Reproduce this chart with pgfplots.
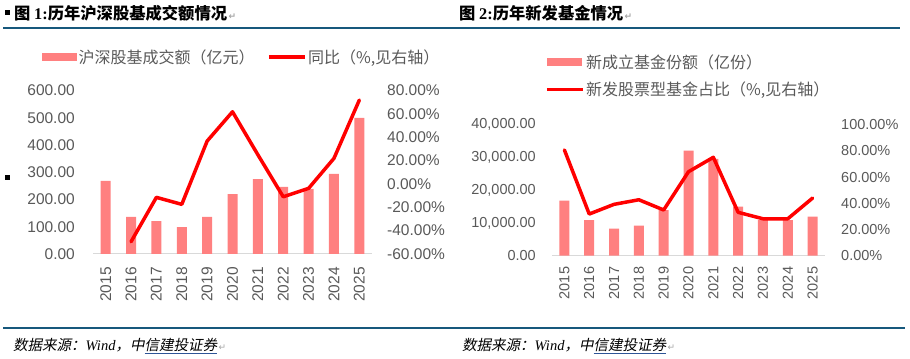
\documentclass[border=0pt]{standalone}
\usepackage{fontspec}
\usepackage{pgfplots}
\pgfplotsset{compat=1.18}
\setmainfont{Liberation Serif}
\newfontfamily\cjk{Noto Sans CJK SC}
\newfontfamily\cjksl{Noto Sans CJK SC}[FakeSlant=0.2]
\newfontfamily\arial{Liberation Sans}
\newfontfamily\dejavu{DejaVu Sans}
\definecolor{barc}{RGB}{255,128,128}
\definecolor{linec}{RGB}{255,0,0}
\definecolor{tickc}{RGB}{89,89,89}
\definecolor{rulec}{RGB}{22,88,124}
\definecolor{linkc}{RGB}{46,85,151}
\definecolor{retc}{RGB}{165,165,165}
\newcommand\bul[1]{\setbox0\hbox{#1}\rlap{\color{linkc}\rule[-3.5bp]{\wd0}{0.9bp}}\box0}
\newcommand\ret{{\dejavu\fontsize{9bp}{9bp}\selectfont\color{retc}\hspace{1.5bp}↵}}

\pgfplotstableread{
x y
0 268
1 136
2 121
3 99
4 136
5 220
6 275
7 246
8 239
9 294
10 500
}\volA
\pgfplotstableread{
x y
1 -49.5
2 -11.5
3 -17.5
4 36.7
5 61.8
6 25.0
7 -11.0
8 -3.8
9 21.9
10 71.8
}\yoyA
\pgfplotstableread{
x y
0 16800
1 10900
2 8250
3 9160
4 13950
5 32060
6 29600
7 14960
8 10900
9 10900
10 11900
}\volB
\pgfplotstableread{
x y
0 80.7
1 31.8
2 39.2
3 42.7
4 34.9
5 64.1
6 75.1
7 33.1
8 28.2
9 28.2
10 44.0
}\shareB

\pgfplotsset{
  base/.style={
    scale only axis, anchor=south west,
    xmin=-0.5, xmax=10.5,
    major tick length=0pt, tick style={draw=none},
    ticklabel style={text=tickc, inner sep=0pt},
    scaled y ticks=false,
    clip=false,
  },
  barlegend/.style={legend image code/.code={\fill[barc] (0bp,-4bp) rectangle (35bp,4bp);}},
  linelegend/.style={legend image code/.code={\draw[linec, line width=3.5bp] (0bp,0bp) -- (36bp,0bp);}},
}

\begin{document}
\begin{tikzpicture}
\useasboundingbox (0bp,0bp) rectangle (910bp,359bp);
% titles
\fill (5bp,344bp) rectangle (10bp,349bp);
\node[anchor=west, inner sep=0pt] at (14bp,346bp) {\cjk\bfseries\fontsize{16.3bp}{18bp}\selectfont 图 {\rmfamily\bfseries 1:}历年沪深股基成交额情况\ret};
\node[anchor=west, inner sep=0pt] at (459bp,346bp) {\cjk\bfseries\fontsize{16.3bp}{18bp}\selectfont 图 {\rmfamily\bfseries 2:}历年新发基金情况\ret};
\draw[rulec, line width=2.5bp] (3bp,331bp) -- (900bp,331bp);
\fill (5bp,179bp) rectangle (10bp,184bp);
% sources
\draw[rulec, line width=1.2bp] (3bp,31bp) -- (905bp,31bp);
\node[anchor=west, inner sep=0pt] at (13bp,13bp) {\fontsize{14.5bp}{16bp}\selectfont{\cjksl 数据来源：}\textit{Wind}{\cjksl ，中}\bul{\cjksl 信建投证券}\ret};
\node[anchor=west, inner sep=0pt] at (462bp,13bp) {\fontsize{14.5bp}{16bp}\selectfont{\cjksl 数据来源：}\textit{Wind}{\cjksl ，中}\bul{\cjksl 信建投证券}\ret};

% ===== Chart 1 =====
\begin{axis}[base, at={(93bp,105bp)}, width=279bp, height=163.5bp,
  ymin=0, ymax=600, ytick={0,100,200,300,400,500,600},
  yticklabels={0.00,100.00,200.00,300.00,400.00,500.00,600.00},
  xtick={0,...,10},
  xticklabels={2015,2016,2017,2018,2019,2020,2021,2022,2023,2024,2025},
  axis x line*=bottom, axis y line*=left,
  y axis line style={draw=none}, x axis line style={draw=black!15, line width=1bp},
  xticklabel style={rotate=90, anchor=east, font=\arial\fontsize{15.5bp}{17bp}\selectfont},
  yticklabel style={anchor=east, font=\arial\fontsize{15.5bp}{17bp}\selectfont},
  xticklabel shift=13bp, yticklabel shift=18bp,
  legend style={draw=none, fill=none, at={(-0.183,1.205)}, anchor=west,
    legend columns=2, text=tickc, inner sep=0pt,
    font=\cjk\fontsize{16bp}{18bp}\selectfont,
    nodes={inner sep=1.5bp},
    /tikz/every even column/.append style={column sep=11bp}},
  legend cell align=left,
]
\addplot[ybar, bar width=10bp, fill=barc, draw=none, barlegend] table[x=x,y=y] {\volA};
\addlegendentry{沪深股基成交额（亿元）}
\addlegendimage{linelegend}
\addlegendentry{同比（\%,见右轴）}
\end{axis}
\begin{axis}[base, at={(93bp,105bp)}, width=279bp, height=163.5bp,
  ymin=-60, ymax=80, ytick={-60,-40,-20,0,20,40,60,80},
  yticklabels={-60.00\%,-40.00\%,-20.00\%,0.00\%,20.00\%,40.00\%,60.00\%,80.00\%},
  axis y line*=right, hide x axis, y axis line style={draw=none},
  yticklabel style={anchor=west, font=\arial\fontsize{15.5bp}{17bp}\selectfont},
  yticklabel shift=15bp,
]
\addplot[linec, line width=3.5bp, line join=round, line cap=round] table[x=x,y=y] {\yoyA};
\end{axis}

% ===== Chart 2 =====
\begin{axis}[base, at={(552bp,103.3bp)}, width=273bp, height=131bp,
  ymin=0, ymax=40000, ytick={0,10000,20000,30000,40000},
  yticklabels={0.00,{10,000.00},{20,000.00},{30,000.00},{40,000.00}},
  xtick={0,...,10},
  xticklabels={2015,2016,2017,2018,2019,2020,2021,2022,2023,2024,2025},
  axis x line*=bottom, axis y line*=left,
  y axis line style={draw=none}, x axis line style={draw=black!15, line width=1bp},
  xticklabel style={rotate=90, anchor=east, font=\arial\fontsize{14.5bp}{16bp}\selectfont},
  yticklabel style={anchor=east, font=\arial\fontsize{14.5bp}{16bp}\selectfont},
  xticklabel shift=11bp, yticklabel shift=16bp,
  legend style={draw=none, fill=none, at={(-0.0256,1.372)}, anchor=west,
    legend columns=1, text=tickc, inner sep=0pt, row sep=9bp,
    font=\cjk\fontsize{16bp}{18bp}\selectfont,
    nodes={inner sep=1.5bp}},
  legend cell align=left,
]
\addplot[ybar, bar width=10bp, fill=barc, draw=none, barlegend] table[x=x,y=y] {\volB};
\addlegendentry{新成立基金份额（亿份）}
\addlegendimage{linelegend}
\addlegendentry{新发股票型基金占比（\%,见右轴）}
\end{axis}
\begin{axis}[base, at={(552bp,103.3bp)}, width=273bp, height=131bp,
  ymin=0, ymax=100, ytick={0,20,40,60,80,100},
  yticklabels={0.00\%,20.00\%,40.00\%,60.00\%,80.00\%,100.00\%},
  axis y line*=right, hide x axis, y axis line style={draw=none},
  yticklabel style={anchor=west, font=\arial\fontsize{14.5bp}{16bp}\selectfont},
  yticklabel shift=16bp,
]
\addplot[linec, line width=3.5bp, line join=round, line cap=round] table[x=x,y=y] {\shareB};
\end{axis}
\end{tikzpicture}
\end{document}
